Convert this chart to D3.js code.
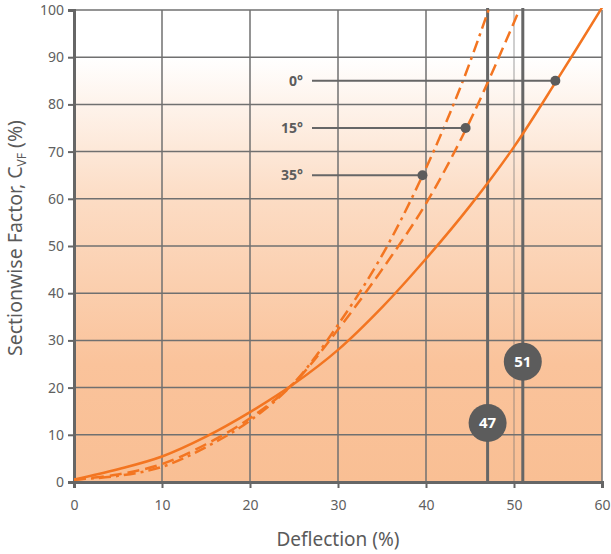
<!DOCTYPE html>
<html>
<head>
<meta charset="utf-8">
<script src="https://cdn.jsdelivr.net/npm/d3@7"></script>
<style>
  body { margin: 0; background: #fff; }
  text { font-family: "Noto Sans", "Open Sans", sans-serif; }
</style>
</head>
<body>
<div id="chart"></div>
<script>
const xTicks = [0, 10, 20, 30, 40, 50, 60];
const yTicks = [0, 10, 20, 30, 40, 50, 60, 70, 80, 90, 100];

// 0 degree curve (solid)
const solidX = [0, 5, 10, 15, 20, 25, 30, 35, 40, 45, 50, 55, 60];
const solidY = [0.5, 2.7, 5.4, 9.6, 14.8, 20.8, 28, 37, 47.3, 58.5, 71, 85.5, 100.5];
// 15 degree curve (dashed)
const dashX = [0, 5, 10, 15, 20, 25, 30, 35, 40, 45, 50.6];
const dashY = [0.5, 1.6, 3.8, 8, 13.5, 21, 32.3, 45, 59, 76.5, 100];
// 35 degree curve (dash-dot)
const dotX = [0, 5, 10, 15, 20, 25, 30, 35, 40, 44.2, 47.1];
const dotY = [0.5, 1.3, 3.2, 7.4, 13, 21, 33.3, 48, 66.5, 85, 100];

const angleLabels = ["0°", "15°", "35°"];
const markerX = [54.7, 44.5, 39.6];
const markerY = [85, 75, 65];

const limitValues = [47, 51];
const limitBadgeY = [12.5, 25.5];

const width = 611, height = 554,
    margin = ({ top: 10, right: 9, bottom: 72, left: 74 });

const svg = d3.select("#chart")
    .append("svg")
    .attr("width", width)
    .attr("height", height);

let x = d3.scaleLinear()
    .domain([0, 60])
    .range([margin.left, width - margin.right]);

let y = d3.scaleLinear()
    .domain([0, 100])
    .range([height - margin.bottom, margin.top]);

// background gradient
const grad = svg.append("defs").append("linearGradient")
    .attr("id", "bg")
    .attr("x1", 0).attr("y1", 0).attr("x2", 0).attr("y2", 1);
grad.append("stop").attr("offset", "0%").attr("stop-color", "#ffffff");
grad.append("stop").attr("offset", "10%").attr("stop-color", "#ffffff");
grad.append("stop").attr("offset", "40%").attr("stop-color", "#fcdcc4");
grad.append("stop").attr("offset", "75%").attr("stop-color", "#fac39b");
grad.append("stop").attr("offset", "100%").attr("stop-color", "#f9bf94");

svg.append("rect")
    .attr("x", x(0))
    .attr("y", y(100))
    .attr("width", x(60) - x(0))
    .attr("height", y(0) - y(100))
    .attr("fill", "url(#bg)");

svg.append("clipPath").attr("id", "plot")
    .append("rect")
    .attr("x", x(0)).attr("y", y(100) - 2)
    .attr("width", x(60) - x(0) + 2).attr("height", y(0) - y(100) + 2);

// grid
svg.append("g")
    .attr("stroke", "#707070")
    .attr("stroke-width", 1.5)
    .selectAll("line.v")
    .data(xTicks.slice(1))
    .join("line")
    .attr("x1", d => x(d)).attr("x2", d => x(d))
    .attr("y1", y(0)).attr("y2", y(100))
    .attr("stroke-opacity", d => d === 50 ? 0.45 : 1);

svg.append("g")
    .attr("stroke", "#707070")
    .attr("stroke-width", 1.5)
    .selectAll("line.h")
    .data(yTicks.slice(1))
    .join("line")
    .attr("x1", x(0)).attr("x2", x(60))
    .attr("y1", d => y(d)).attr("y2", d => y(d));

// axes
const xAxis = svg.append("g")
    .attr("transform", `translate(0,${y(0)})`)
    .call(d3.axisBottom(x).tickValues(xTicks).tickSize(6).tickPadding(12));

const yAxis = svg.append("g")
    .attr("transform", `translate(${x(0)},0)`)
    .call(d3.axisLeft(y).tickValues(yTicks).tickSize(6).tickPadding(4));

[xAxis, yAxis].forEach(a => {
    a.select(".domain").attr("stroke", "#666").attr("stroke-width", 3);
    a.selectAll(".tick line").attr("stroke", "#666").attr("stroke-width", 2);
    a.selectAll(".tick text").attr("fill", "#606060").attr("font-size", 14)
        .style("font-family", "'Noto Sans', sans-serif");
});

// limit lines at 47 and 51
svg.append("g")
    .selectAll("line")
    .data(limitValues)
    .join("line")
    .attr("x1", d => x(d)).attr("x2", d => x(d))
    .attr("y1", y(100) - 2).attr("y2", y(0))
    .attr("stroke", "#666")
    .attr("stroke-width", 3);

// curves
const line = d3.line()
    .x(d => x(d[0]))
    .y(d => y(d[1]))
    .curve(d3.curveCatmullRom.alpha(0.5));

const curves = [
    { xs: solidX, ys: solidY, dash: null },
    { xs: dashX, ys: dashY, dash: "12,6" },
    { xs: dotX, ys: dotY, dash: "12,5,3,5" }
];

svg.append("g")
    .attr("clip-path", "url(#plot)")
    .selectAll("path")
    .data(curves)
    .join("path")
    .attr("d", d => line(d.xs.map((v, i) => [v, d.ys[i]])))
    .attr("fill", "none")
    .attr("stroke", "#f37521")
    .attr("stroke-width", 2.5)
    .attr("stroke-dasharray", d => d.dash);

// angle annotations
const ann = svg.append("g");
ann.selectAll("line")
    .data(markerX)
    .join("line")
    .attr("x1", 312)
    .attr("x2", d => x(d))
    .attr("y1", (d, i) => y(markerY[i]))
    .attr("y2", (d, i) => y(markerY[i]))
    .attr("stroke", "#666")
    .attr("stroke-width", 2);

ann.selectAll("circle")
    .data(markerX)
    .join("circle")
    .attr("cx", d => x(d))
    .attr("cy", (d, i) => y(markerY[i]))
    .attr("r", 5)
    .attr("fill", "#5c5c5c");

ann.selectAll("text")
    .data(angleLabels)
    .join("text")
    .attr("x", 303)
    .attr("y", (d, i) => y(markerY[i]) + 5)
    .attr("text-anchor", "end")
    .attr("font-size", 14)
    .attr("font-weight", "bold")
    .attr("fill", "#5c5c5c")
    .text(d => d);

// badges
const badges = svg.append("g")
    .selectAll("g")
    .data(limitValues)
    .join("g")
    .attr("transform", (d, i) => `translate(${x(d)},${y(limitBadgeY[i])})`);

badges.append("circle")
    .attr("r", 19)
    .attr("fill", "#5c5c5c");

badges.append("text")
    .attr("text-anchor", "middle")
    .attr("dy", "0.36em")
    .attr("font-size", 15)
    .attr("font-weight", "bold")
    .attr("fill", "#fff")
    .text(d => d);

// axis titles
svg.append("text")
    .attr("x", (x(0) + x(60)) / 2)
    .attr("y", 546)
    .attr("text-anchor", "middle")
    .attr("font-size", 19)
    .attr("fill", "#5a5a5a")
    .text("Deflection (%)");

const yt = svg.append("text")
    .attr("transform", `translate(22,${(y(0) + y(100)) / 2 - 8}) rotate(-90)`)
    .attr("text-anchor", "middle")
    .attr("font-size", 19.5)
    .attr("fill", "#5a5a5a");
yt.append("tspan").text("Sectionwise Factor, C");
yt.append("tspan").attr("font-size", 12).attr("dy", 4).text("VF");
yt.append("tspan").attr("dy", -4).text(" (%)");
</script>
</body>
</html>
